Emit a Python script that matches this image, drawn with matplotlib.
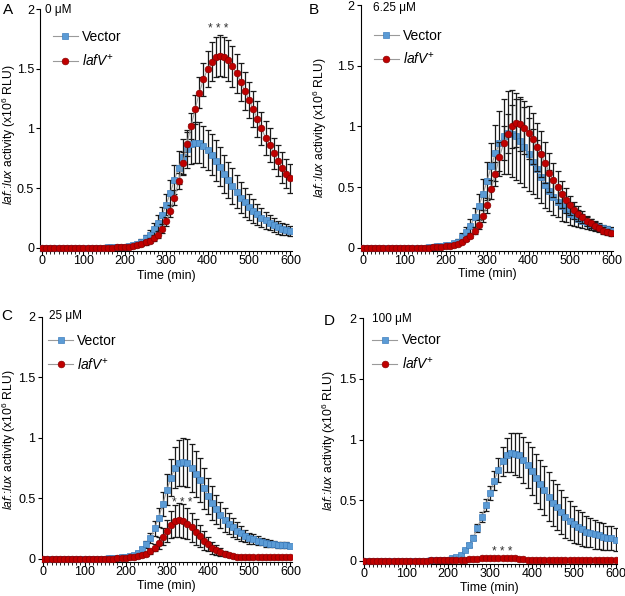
import numpy as np
import matplotlib
matplotlib.use("Agg")
import matplotlib.pyplot as plt
from matplotlib.ticker import MultipleLocator

plt.rcParams['font.family'] = ['Liberation Sans', 'DejaVu Sans']
plt.rcParams['mathtext.fontset'] = 'custom'
plt.rcParams['mathtext.rm'] = 'Liberation Sans'
plt.rcParams['mathtext.it'] = 'Liberation Sans:italic'

time = np.arange(0, 610, 10)
z16 = [0.0] * 16

# panel A: 0 uM
vec_a = z16 + [0.005, 0.005, 0.005, 0.01,
    0.01, 0.015, 0.02, 0.035, 0.05, 0.08, 0.11, 0.16, 0.21, 0.27,
    0.36, 0.46, 0.57, 0.67, 0.76, 0.83, 0.87, 0.88, 0.88, 0.85,
    0.82, 0.78, 0.73, 0.68, 0.62, 0.57, 0.52, 0.47, 0.42, 0.38,
    0.34, 0.31, 0.28, 0.25, 0.23, 0.21, 0.19, 0.17, 0.16, 0.15, 0.14]
vec_a_err = z16 + [0, 0, 0, 0.005,
    0.005, 0.01, 0.01, 0.015, 0.02, 0.03, 0.04, 0.05, 0.06, 0.07,
    0.09, 0.11, 0.12, 0.14, 0.15, 0.16, 0.17, 0.17, 0.17, 0.17,
    0.17, 0.17, 0.17, 0.16, 0.16, 0.15, 0.15, 0.14, 0.13, 0.12,
    0.11, 0.10, 0.09, 0.08, 0.07, 0.065, 0.06, 0.055, 0.05, 0.045, 0.04]
laf_a = z16 + [0.0, 0.0, 0.005, 0.005,
    0.005, 0.01, 0.015, 0.02, 0.03, 0.045, 0.06, 0.08, 0.11, 0.16,
    0.22, 0.31, 0.42, 0.56, 0.71, 0.87, 1.02, 1.16, 1.30, 1.41,
    1.50, 1.56, 1.60, 1.61, 1.60, 1.57, 1.52, 1.46, 1.39, 1.31,
    1.24, 1.16, 1.08, 1.00, 0.92, 0.86, 0.79, 0.73, 0.67, 0.62, 0.58]
laf_a_err = z16 + [0, 0, 0, 0,
    0.005, 0.005, 0.01, 0.01, 0.015, 0.02, 0.02, 0.025, 0.03, 0.035,
    0.04, 0.05, 0.06, 0.07, 0.09, 0.10, 0.11, 0.12, 0.13, 0.14,
    0.15, 0.16, 0.17, 0.17, 0.17, 0.17, 0.17, 0.16, 0.16, 0.16,
    0.15, 0.15, 0.15, 0.14, 0.14, 0.14, 0.13, 0.13, 0.13, 0.12, 0.12]

# panel B: 6.25 uM
vec_b = z16 + [0.005, 0.005, 0.01, 0.01,
    0.02, 0.025, 0.035, 0.05, 0.09, 0.13, 0.18, 0.25, 0.34, 0.44,
    0.55, 0.67, 0.78, 0.86, 0.92, 0.95, 0.94, 0.92, 0.88, 0.83,
    0.77, 0.71, 0.65, 0.58, 0.52, 0.47, 0.42, 0.38, 0.34, 0.31,
    0.28, 0.26, 0.24, 0.22, 0.20, 0.19, 0.18, 0.17, 0.16, 0.15, 0.14]
vec_b_err = z16 + [0, 0, 0, 0,
    0.005, 0.005, 0.01, 0.02, 0.03, 0.04, 0.06, 0.08, 0.10, 0.13,
    0.16, 0.19, 0.23, 0.27, 0.31, 0.34, 0.36, 0.36, 0.35, 0.33,
    0.30, 0.27, 0.24, 0.21, 0.19, 0.17, 0.15, 0.13, 0.12, 0.10,
    0.09, 0.08, 0.07, 0.06, 0.05, 0.045, 0.04, 0.035, 0.03, 0.03, 0.03]
laf_b = z16 + [0.0, 0.005, 0.005, 0.005,
    0.01, 0.015, 0.02, 0.03, 0.05, 0.07, 0.10, 0.14, 0.19, 0.26,
    0.35, 0.48, 0.61, 0.75, 0.86, 0.94, 1.00, 1.03, 1.02, 0.99,
    0.95, 0.90, 0.83, 0.77, 0.70, 0.62, 0.56, 0.50, 0.44, 0.39,
    0.35, 0.31, 0.28, 0.25, 0.22, 0.20, 0.18, 0.16, 0.14, 0.13, 0.12]
laf_b_err = z16 + [0, 0, 0, 0,
    0, 0.005, 0.005, 0.01, 0.01, 0.015, 0.02, 0.03, 0.04, 0.05,
    0.06, 0.08, 0.10, 0.12, 0.14, 0.16, 0.18, 0.20, 0.22, 0.22,
    0.22, 0.21, 0.20, 0.19, 0.17, 0.16, 0.14, 0.13, 0.11, 0.10,
    0.08, 0.07, 0.06, 0.05, 0.045, 0.04, 0.035, 0.03, 0.03, 0.025, 0.02]

# panel C: 25 uM
vec_c = z16 + [0.005, 0.005, 0.005, 0.01,
    0.01, 0.02, 0.03, 0.05, 0.08, 0.12, 0.17, 0.25, 0.34, 0.45,
    0.57, 0.67, 0.75, 0.79, 0.80, 0.79, 0.75, 0.70, 0.65, 0.58,
    0.52, 0.46, 0.41, 0.36, 0.32, 0.29, 0.26, 0.23, 0.21, 0.19,
    0.17, 0.16, 0.15, 0.14, 0.13, 0.125, 0.12, 0.115, 0.11, 0.11, 0.105]
vec_c_err = z16 + [0, 0, 0, 0,
    0.005, 0.005, 0.01, 0.015, 0.02, 0.03, 0.04, 0.06, 0.08, 0.10,
    0.13, 0.15, 0.17, 0.19, 0.20, 0.20, 0.20, 0.19, 0.18, 0.17,
    0.15, 0.14, 0.12, 0.11, 0.10, 0.09, 0.08, 0.07, 0.06, 0.05,
    0.045, 0.04, 0.035, 0.03, 0.03, 0.03, 0.025, 0.025, 0.025, 0.025, 0.02]
laf_c = z16 + [0.0, 0.0, 0.005, 0.005,
    0.005, 0.01, 0.01, 0.02, 0.03, 0.04, 0.06, 0.09, 0.13, 0.18,
    0.23, 0.28, 0.31, 0.32, 0.31, 0.29, 0.26, 0.22, 0.19, 0.15,
    0.12, 0.09, 0.07, 0.055, 0.04, 0.03, 0.02, 0.015, 0.01, 0.01,
    0.01, 0.01, 0.01, 0.01, 0.01, 0.01, 0.01, 0.01, 0.01, 0.01, 0.01]
laf_c_err = z16 + [0, 0, 0, 0,
    0, 0, 0.005, 0.005, 0.01, 0.015, 0.02, 0.03, 0.05, 0.07,
    0.09, 0.11, 0.13, 0.14, 0.14, 0.13, 0.12, 0.11, 0.09, 0.08,
    0.06, 0.05, 0.04, 0.03, 0.02, 0.015, 0.01, 0.01, 0.005, 0.005,
    0.005, 0.005, 0.005, 0.005, 0.005, 0.005, 0.005, 0.005, 0.005, 0.005, 0.005]

# panel D: 100 uM
vec_d = z16 + [0.005, 0.005, 0.005, 0.01,
    0.01, 0.02, 0.03, 0.05, 0.09, 0.13, 0.19, 0.27, 0.36, 0.46,
    0.56, 0.66, 0.75, 0.82, 0.87, 0.89, 0.88, 0.87, 0.83, 0.79,
    0.74, 0.68, 0.63, 0.58, 0.53, 0.48, 0.44, 0.40, 0.36, 0.33,
    0.30, 0.28, 0.26, 0.24, 0.23, 0.22, 0.21, 0.20, 0.19, 0.185, 0.175]
vec_d_err = z16 + [0, 0, 0, 0,
    0.005, 0.005, 0.005, 0.01, 0.01, 0.015, 0.02, 0.03, 0.04, 0.05,
    0.06, 0.08, 0.10, 0.12, 0.14, 0.16, 0.17, 0.18, 0.19, 0.19,
    0.20, 0.20, 0.20, 0.20, 0.20, 0.19, 0.19, 0.18, 0.17, 0.16,
    0.15, 0.14, 0.14, 0.13, 0.12, 0.12, 0.11, 0.11, 0.10, 0.10, 0.095]
laf_d = z16 + [0.005, 0.005, 0.005, 0.005,
    0.005, 0.005, 0.005, 0.01, 0.01, 0.015, 0.015, 0.015, 0.02, 0.02,
    0.025, 0.025, 0.025, 0.025, 0.02, 0.02, 0.02, 0.015, 0.015, 0.01,
    0.01, 0.01, 0.01, 0.01, 0.01, 0.01, 0.01, 0.005, 0.005, 0.005,
    0.005, 0.005, 0.005, 0.005, 0.005, 0.005, 0.005, 0.005, 0.005, 0.005, 0.005]
laf_d_err = [0.003] * 61

panels = ['A', 'B', 'C', 'D']
concs = ['0 μM', '6.25 μM', '25 μM', '100 μM']
vec_all = [vec_a, vec_b, vec_c, vec_d]
vec_err_all = [vec_a_err, vec_b_err, vec_c_err, vec_d_err]
laf_all = [laf_a, laf_b, laf_c, laf_d]
laf_err_all = [laf_a_err, laf_b_err, laf_c_err, laf_d_err]
stars = [(425, 1.83), None, (338, 0.46), (330, 0.07)]

# layout (figure fractions / axes fractions)
positions = [
    [0.0645, 0.5794, 0.4022, 0.4054],
    [0.5776, 0.5794, 0.4027, 0.4117],
    [0.0667, 0.0576, 0.4000, 0.4110],
    [0.5803, 0.0540, 0.4066, 0.4120],
]
letter_xy = [(8, 10), (314, 10), (7, 316), (329, 321)]
conc_xy = [(45, 10), (373, 8), (49, 316), (372, 319)]
legend_xy = [(0.05, 0.912), (0.05, 0.905), (0.026, 0.93), (0.038, 0.938)]
ylabel_xy = [(-0.09, 0.48), (-0.127, 0.5), (-0.096, 0.5), (-0.097, 0.5)]
xlabel_y = [-0.08, -0.07, -0.075, -0.075]

blue = '#5B9BD5'
blue_edge = '#3F7FBF'
red = '#C00000'
red_edge = '#8A0000'

fig = plt.figure(figsize=(6.25, 5.96), dpi=100)

for i in range(4):
    ax = fig.add_axes(positions[i])
    ax.errorbar(time, vec_all[i], yerr=vec_err_all[i], fmt='none', ecolor='#1a1a1a',
                elinewidth=0.9, capsize=2.4, capthick=0.9, zorder=2)
    hv, = ax.plot(time, vec_all[i], color='#9a9a9a', lw=0.8, marker='s', ms=4.8,
                  mfc=blue, mec=blue_edge, mew=0.5, zorder=3)
    ax.errorbar(time, laf_all[i], yerr=laf_err_all[i], fmt='none', ecolor='#1a1a1a',
                elinewidth=0.9, capsize=2.4, capthick=0.9, zorder=4)
    hl, = ax.plot(time, laf_all[i], color='#9a9a9a', lw=0.8, marker='o', ms=4.8,
                  mfc=red, mec=red_edge, mew=0.5, zorder=5)

    ax.set_xlim(-4, 603)
    ax.set_ylim(-0.025, 2.0)
    ax.spines['top'].set_visible(False)
    ax.spines['right'].set_visible(False)
    ax.xaxis.set_major_locator(MultipleLocator(100))
    ax.xaxis.set_minor_locator(MultipleLocator(10))
    ax.yaxis.set_major_locator(MultipleLocator(0.5))
    ax.yaxis.set_major_formatter(plt.FuncFormatter(lambda v, p: ('%g' % v)))
    ax.tick_params(axis='both', which='major', direction='out', length=3, width=0.8,
                   labelsize=9, pad=1.5)
    ax.tick_params(axis='x', which='major', pad=0.3)
    ax.tick_params(axis='x', which='minor', direction='out', length=2, width=0.6)
    ax.set_xlabel('Time (min)', fontsize=8.8)
    ax.xaxis.set_label_coords(0.5, xlabel_y[i])
    ax.set_ylabel(r'$\mathit{laf}$::$\mathit{lux}$ activity (x10$^6$ RLU)', fontsize=8.7)
    ax.yaxis.set_label_coords(*ylabel_xy[i])

    ax.legend([hv, hl], ['Vector', r'$\mathit{lafV}^{+}$'], loc='upper left',
              bbox_to_anchor=legend_xy[i], frameon=False, fontsize=10,
              handlelength=1.8, handletextpad=0.3, labelspacing=0.6,
              borderpad=0, borderaxespad=0)

    if stars[i] is not None:
        ax.text(stars[i][0], stars[i][1], '* * *', ha='center', va='center',
                fontsize=8.5, color='#333333')

    fig.text(letter_xy[i][0] / 625, 1 - letter_xy[i][1] / 596, panels[i],
             fontsize=11, ha='center', va='center')
    fig.text(conc_xy[i][0] / 625, 1 - conc_xy[i][1] / 596, concs[i],
             fontsize=8.5, ha='left', va='center')

fig.savefig('out.png', dpi=100)
